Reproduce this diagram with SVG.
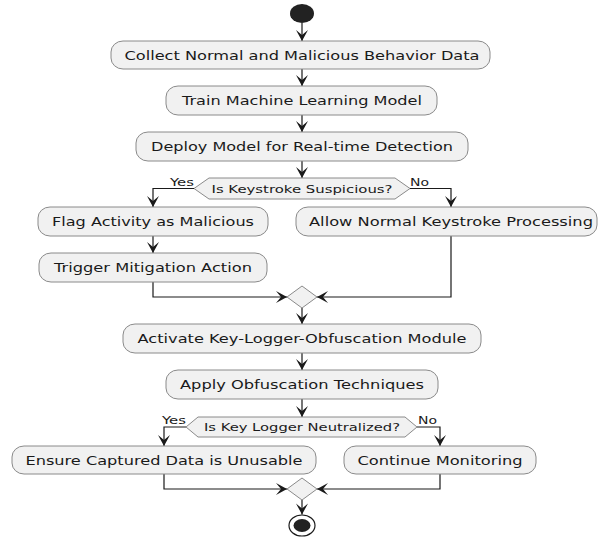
<svg xmlns="http://www.w3.org/2000/svg" width="598" height="537" viewBox="0 0 598 537">
<style>
.box{fill:#F1F1F1;stroke:#8a8a8a;stroke-width:1}
.hex{fill:#F1F1F1;stroke:#8a8a8a;stroke-width:1}
.t{font-family:"DejaVu Sans",sans-serif;font-size:13px;fill:#1a1a1a;text-anchor:middle}
.s{font-family:"DejaVu Sans",sans-serif;font-size:11px;fill:#1a1a1a;text-anchor:middle}
.l{font-family:"DejaVu Sans",sans-serif;font-size:11px;fill:#1a1a1a}
.c{fill:none;stroke:#1a1a1a;stroke-width:1.2}
</style>
<defs>
<marker id="ah" markerUnits="userSpaceOnUse" markerWidth="14" markerHeight="14" viewBox="-12 -7 14 14" refX="0" refY="0" orient="auto">
<path d="M0,0 L-11,-6 L-6,0 L-11,6 Z" fill="#1a1a1a"/>
</marker>
</defs>
<g id="connectors">
<path class="c" d="M302,23 V41" marker-end="url(#ah)"/>
<path class="c" d="M302,69 V86" marker-end="url(#ah)"/>
<path class="c" d="M302,115 V132" marker-end="url(#ah)"/>
<path class="c" d="M302,161 V178" marker-end="url(#ah)"/>
<path class="c" d="M194,188.5 H153 V207" marker-end="url(#ah)"/>
<path class="c" d="M410,188.5 H451 V207" marker-end="url(#ah)"/>
<path class="c" d="M153,236 V253" marker-end="url(#ah)"/>
<path class="c" d="M153,282 V297 H287" marker-end="url(#ah)"/>
<path class="c" d="M451,236 V297 H317" marker-end="url(#ah)"/>
<path class="c" d="M302,308 V324" marker-end="url(#ah)"/>
<path class="c" d="M302,353 V370" marker-end="url(#ah)"/>
<path class="c" d="M302,399 V417" marker-end="url(#ah)"/>
<path class="c" d="M186,427 H164 V446" marker-end="url(#ah)"/>
<path class="c" d="M417,427 H440 V446" marker-end="url(#ah)"/>
<path class="c" d="M164,474 V489 H287" marker-end="url(#ah)"/>
<path class="c" d="M440,474 V489 H317" marker-end="url(#ah)"/>
<path class="c" d="M302,500 V514.5" marker-end="url(#ah)"/>
<text class="l" x="170" y="186" textLength="24" lengthAdjust="spacingAndGlyphs">Yes</text>
<text class="l" x="410" y="186" textLength="19" lengthAdjust="spacingAndGlyphs">No</text>
<text class="l" x="162" y="424" textLength="24" lengthAdjust="spacingAndGlyphs">Yes</text>
<text class="l" x="418" y="424" textLength="19" lengthAdjust="spacingAndGlyphs">No</text>
</g>
<g id="start"><ellipse cx="302" cy="13.5" rx="12" ry="9.5" fill="#222"/></g>
<g id="collect">
<rect class="box" x="111" y="41" width="379" height="28" rx="12" ry="11"/>
<text class="t" x="302" y="59.5" textLength="355" lengthAdjust="spacingAndGlyphs">Collect Normal and Malicious Behavior Data</text>
</g>
<g id="train">
<rect class="box" x="166" y="86" width="271" height="29" rx="12" ry="11"/>
<text class="t" x="302" y="105" textLength="240" lengthAdjust="spacingAndGlyphs">Train Machine Learning Model</text>
</g>
<g id="deploy">
<rect class="box" x="136" y="132" width="332" height="29" rx="12" ry="11"/>
<text class="t" x="302" y="151" textLength="302" lengthAdjust="spacingAndGlyphs">Deploy Model for Real-time Detection</text>
</g>
<g id="suspicious">
<polygon class="hex" points="194,188.5 209,178 395,178 410,188.5 395,199 209,199"/>
<text class="s" x="302" y="192.5" textLength="181" lengthAdjust="spacingAndGlyphs">Is Keystroke Suspicious?</text>
</g>
<g id="flag">
<rect class="box" x="38" y="207" width="230" height="29" rx="12" ry="11"/>
<text class="t" x="153" y="226" textLength="202" lengthAdjust="spacingAndGlyphs">Flag Activity as Malicious</text>
</g>
<g id="allow">
<rect class="box" x="296" y="207" width="301" height="29" rx="12" ry="11"/>
<text class="t" x="451" y="226" textLength="284" lengthAdjust="spacingAndGlyphs">Allow Normal Keystroke Processing</text>
</g>
<g id="trigger">
<rect class="box" x="39" y="253" width="228" height="29" rx="12" ry="11"/>
<text class="t" x="153" y="272" textLength="198" lengthAdjust="spacingAndGlyphs">Trigger Mitigation Action</text>
</g>
<g id="merge1"><polygon class="hex" points="287,297 302,286 317,297 302,308"/></g>
<g id="activate">
<rect class="box" x="123" y="324" width="358" height="29" rx="12" ry="11"/>
<text class="t" x="302" y="343" textLength="329" lengthAdjust="spacingAndGlyphs">Activate Key-Logger-Obfuscation Module</text>
</g>
<g id="apply">
<rect class="box" x="166" y="370" width="272" height="29" rx="12" ry="11"/>
<text class="t" x="302" y="389" textLength="244" lengthAdjust="spacingAndGlyphs">Apply Obfuscation Techniques</text>
</g>
<g id="neutralized">
<polygon class="hex" points="186,427 198,417 405,417 417,427 405,437 198,437"/>
<text class="s" x="302" y="431" textLength="196" lengthAdjust="spacingAndGlyphs">Is Key Logger Neutralized?</text>
</g>
<g id="ensure">
<rect class="box" x="12" y="446" width="304" height="28" rx="12" ry="11"/>
<text class="t" x="164" y="464.5" textLength="277" lengthAdjust="spacingAndGlyphs">Ensure Captured Data is Unusable</text>
</g>
<g id="continue">
<rect class="box" x="344" y="446" width="192" height="28" rx="12" ry="11"/>
<text class="t" x="440" y="464.5" textLength="165" lengthAdjust="spacingAndGlyphs">Continue Monitoring</text>
</g>
<g id="merge2"><polygon class="hex" points="287,489 302,478 317,489 302,500"/></g>
<g id="end">
<ellipse cx="302" cy="525.5" rx="13" ry="10.5" fill="#fff" stroke="#1a1a1a" stroke-width="1.2"/>
<ellipse cx="302" cy="525.5" rx="8.5" ry="6.5" fill="#222"/>
</g>
</svg>
